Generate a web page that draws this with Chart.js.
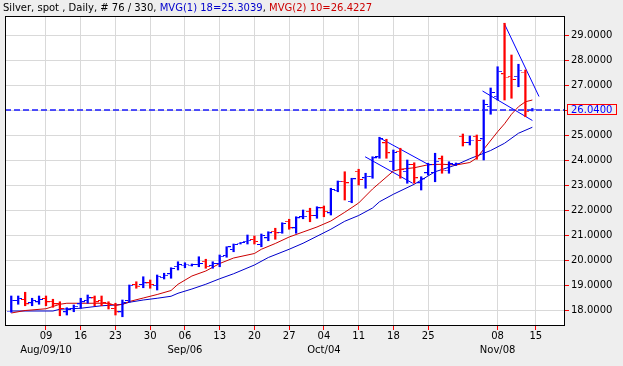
<!DOCTYPE html>
<html>
<head>
<meta charset="utf-8">
<title>Silver, spot, Daily</title>
<script src="https://cdn.jsdelivr.net/npm/chart.js@4.4.0/dist/chart.umd.min.js"></script>
<style>
  html, body { margin: 0; padding: 0; background: #eeeeee; }
  canvas { display: block; }
</style>
</head>
<body>
<canvas id="chart" width="623" height="366"></canvas>
<script>
// Daily OHLC, one bar per trading day, index 0 = Aug 2 2010
const opens = [
  17.96, 18.38, 18.42, 18.29, 18.33, 18.46, 18.35, 18.25, 17.93, 18.06,
  18.25, 18.38, 18.49, 18.38, 18.27, 18.06, 17.93, 18.38, 19.02, 19.02,
  19.09, 18.99, 19.31, 19.45, 19.75, 19.80, 19.80, 19.82, 19.95, 19.78,
  19.86, 20.18, 20.42, 20.68, 20.75, 20.82, 20.62, 20.89, 21.15, 21.11,
  21.55, 21.29, 21.73, 21.95, 21.78, 22.09, 21.89, 22.79, 23.15, 22.35,
  23.55, 23.29, 23.35, 24.13, 24.69, 23.95, 24.35, 23.55, 23.82, 23.09,
  23.49, 23.50, 24.05, 23.60, 23.82, 24.95, 24.70, 24.95, 24.85, 26.15,
  26.55, 27.45, 27.35, 27.35, 27.52, 26.00
];
const highs = [
  18.58, 18.58, 18.73, 18.49, 18.58, 18.58, 18.45, 18.35, 18.11, 18.22,
  18.49, 18.62, 18.58, 18.58, 18.35, 18.29, 18.42, 19.02, 19.15, 19.35,
  19.22, 19.42, 19.49, 19.71, 19.95, 19.91, 19.86, 20.15, 20.05, 19.95,
  20.22, 20.55, 20.66, 20.72, 21.02, 20.98, 21.06, 21.15, 21.29, 21.51,
  21.65, 21.75, 22.02, 22.09, 22.15, 22.18, 22.89, 23.18, 23.55, 23.29,
  23.65, 23.49, 24.15, 24.93, 24.85, 24.42, 24.49, 24.02, 23.91, 23.35,
  23.89, 24.29, 24.18, 23.95, 23.90, 25.06, 24.98, 25.02, 26.42, 26.90,
  27.75, 29.49, 28.22, 27.85, 27.62, 26.08
];
const lows = [
  17.93, 18.25, 18.19, 18.19, 18.25, 18.19, 18.13, 17.79, 17.82, 17.95,
  18.09, 18.29, 18.19, 18.19, 18.06, 17.82, 17.75, 18.33, 18.89, 18.91,
  18.89, 18.82, 19.26, 19.29, 19.62, 19.71, 19.78, 19.75, 19.69, 19.69,
  19.75, 20.13, 20.35, 20.66, 20.66, 20.66, 20.55, 20.79, 20.85, 21.09,
  21.25, 21.09, 21.67, 21.55, 21.69, 21.75, 21.82, 22.75, 22.42, 22.31,
  23.02, 22.89, 23.29, 24.09, 24.09, 23.62, 23.29, 23.09, 23.09, 22.82,
  23.42, 23.15, 23.49, 23.49, 23.80, 24.58, 24.62, 24.05, 24.02, 25.85,
  26.42, 26.42, 26.49, 26.95, 25.75, 25.98
];
const closes = [
  18.38, 18.46, 18.25, 18.38, 18.42, 18.33, 18.25, 18.06, 18.02, 18.15,
  18.33, 18.49, 18.33, 18.29, 18.22, 17.93, 18.29, 18.99, 18.95, 19.09,
  19.02, 19.35, 19.39, 19.66, 19.82, 19.84, 19.82, 19.86, 19.75, 19.86,
  20.15, 20.53, 20.62, 20.70, 20.79, 20.74, 20.98, 21.09, 21.09, 21.46,
  21.29, 21.69, 21.75, 21.78, 22.09, 21.95, 22.82, 23.15, 23.09, 23.25,
  23.22, 23.35, 24.09, 24.85, 24.29, 24.30, 23.62, 23.82, 23.29, 23.25,
  23.82, 23.95, 23.60, 23.85, 23.87, 24.70, 24.80, 24.78, 26.22, 26.70,
  27.55, 27.32, 27.22, 27.60, 25.95, 26.04
];

// MVG(2) 10 (red) and MVG(1) 18 (blue) at some bars
const ma10Idx = [0, 2, 5, 7, 8, 14, 15, 16, 17, 19, 21, 23, 24, 26, 28, 30, 32, 35, 36, 38,
  40, 42, 44, 46, 48, 50, 52, 53, 55, 56, 58, 60, 62, 64, 66, 67, 68, 70, 71, 72, 73, 74, 75];
const ma10Val = [17.90, 18.00, 18.07, 18.25, 18.29, 18.29, 18.20, 18.25, 18.36, 18.50,
  18.64, 18.80, 19.05, 19.38, 19.58, 19.88, 20.10, 20.28, 20.45, 20.68,
  20.94, 21.14, 21.34, 21.58, 21.93, 22.30, 22.86, 23.10, 23.58, 23.65,
  23.71, 23.83, 23.85, 23.82, 23.92, 24.10, 24.45, 25.15, 25.47, 25.85,
  26.15, 26.35, 26.42];
const ma18Idx = [0, 6, 7, 10, 13, 15, 16, 17, 19, 21, 23, 24, 26, 28, 30, 32, 35, 37, 40, 42,
  44, 46, 48, 50, 52, 53, 55, 58, 61, 64, 66, 69, 71, 73, 75];
const ma18Val = [17.98, 17.98, 18.05, 18.09, 18.19, 18.22, 18.25, 18.33, 18.42, 18.49,
  18.57, 18.69, 18.86, 19.05, 19.27, 19.47, 19.82, 20.12, 20.45, 20.69,
  20.97, 21.25, 21.57, 21.80, 22.10, 22.35, 22.65, 23.05, 23.55, 23.82,
  24.07, 24.40, 24.69, 25.09, 25.33];

// hand drawn trend lines: [bar1, price1, bar2, price2]
const trendLines = [
  [52.99, 24.91, 60.17, 23.82],
  [50.93, 24.15, 57.78, 23.09],
  [70.94, 29.49, 75.96, 26.56],
  [67.83, 26.78, 75.01, 25.60]
];

const lastPrice = 26.04;

// x axis ticks (bar index) and labels
const xTickIdx = [5, 10, 15, 20, 25, 30, 35, 40, 45, 50, 55, 60, 70, 75.5];
const xTickLabels = [['09', 'Aug/09/10'], ['16'], ['23'], ['30'], ['06', 'Sep/06'], ['13'], ['20'], ['27'],
  ['04', 'Oct/04'], ['11'], ['18'], ['25'], ['08', 'Nov/08'], ['15']];
const yTicks = [18, 19, 20, 21, 22, 23, 24, 25, 26, 27, 28, 29];

const UP = '#0000ff';
const DOWN = '#ff0000';
const BG = '#eeeeee';

Chart.defaults.font.family = '"DejaVu Sans", sans-serif';
Chart.defaults.font.size = 10;
Chart.defaults.color = '#000';

// small open / close tick images used as point styles
function tickImage(color, side) {
  const c = document.createElement('canvas');
  c.width = 8;
  c.height = 2;
  const g = c.getContext('2d');
  g.fillStyle = color;
  g.fillRect(side === 'left' ? 0 : 5, 0, 3, 1);
  return c;
}
const marks = {
  openUp: tickImage(UP, 'left'), openDown: tickImage(DOWN, 'left'),
  closeUp: tickImage(UP, 'right'), closeDown: tickImage(DOWN, 'right')
};

const idx = closes.map((_, i) => i);
const isUp = i => closes[i] >= opens[i];

const datasets = [
  {
    type: 'bar',
    data: idx.map(i => ({ x: i, y: [lows[i], highs[i]] })),
    backgroundColor: idx.map(i => isUp(i) ? UP : DOWN),
    barThickness: 1.6,
    borderWidth: 0
  },
  {
    type: 'scatter',
    data: idx.map(i => ({ x: i, y: opens[i] })),
    pointStyle: idx.map(i => isUp(i) ? marks.openUp : marks.openDown),
    pointRadius: 2
  },
  {
    type: 'scatter',
    data: idx.map(i => ({ x: i, y: closes[i] })),
    pointStyle: idx.map(i => isUp(i) ? marks.closeUp : marks.closeDown),
    pointRadius: 2
  },
  {
    type: 'line',
    data: ma10Idx.map((x, k) => ({ x, y: ma10Val[k] })),
    borderColor: '#cc0000',
    borderWidth: 1,
    pointRadius: 0,
    tension: 0
  },
  {
    type: 'line',
    data: ma18Idx.map((x, k) => ({ x, y: ma18Val[k] })),
    borderColor: '#0000cc',
    borderWidth: 1,
    pointRadius: 0,
    tension: 0
  }
];
trendLines.forEach(t => {
  datasets.push({
    type: 'line',
    data: [{ x: t[0], y: t[1] }, { x: t[2], y: t[3] }],
    borderColor: '#0000ff',
    borderWidth: 1,
    pointRadius: 0
  });
});

// background, frame, last price line and header
const decor = {
  id: 'decor',
  beforeDraw(chart) {
    const { ctx, chartArea: a } = chart;
    ctx.save();
    ctx.fillStyle = BG;
    ctx.fillRect(0, 0, chart.width, chart.height);
    ctx.fillStyle = '#ffffff';
    ctx.fillRect(a.left, a.top, a.right - a.left, a.bottom - a.top);
    ctx.restore();
  },
  afterDatasetsDraw(chart) {
    const { ctx, chartArea: a, scales } = chart;
    const py = Math.round(scales.y.getPixelForValue(lastPrice));
    ctx.save();
    ctx.strokeStyle = '#1a1aff';
    ctx.lineWidth = 1.5;
    ctx.setLineDash([6, 3]);
    ctx.beginPath();
    ctx.moveTo(a.left, py);
    ctx.lineTo(a.right, py);
    ctx.stroke();
    ctx.restore();
  },
  afterDraw(chart) {
    const { ctx, chartArea: a, scales } = chart;
    ctx.save();
    ctx.strokeStyle = '#000';
    ctx.lineWidth = 1;
    ctx.strokeRect(a.left + 0.5, a.top + 0.5, a.right - a.left - 1, a.bottom - a.top - 1);

    // boxed last price on the axis
    const py = Math.round(scales.y.getPixelForValue(lastPrice)) - 0.5;
    ctx.fillStyle = BG;
    ctx.fillRect(a.right + 2, py - 5, 49, 10);
    ctx.strokeStyle = '#ff0000';
    ctx.strokeRect(a.right + 2.5, py - 5, 49, 10);
    ctx.fillStyle = '#0000ff';
    ctx.font = '10px "DejaVu Sans"';
    ctx.textBaseline = 'middle';
    ctx.fillText(lastPrice.toFixed(4), a.right + 6, py + 0.5);

    // header text in three colours
    const parts = [
      ['Silver, spot , Daily, # 76 / 330, ', '#000000'],
      ['MVG(1) 18=25.3039', '#0000cc'],
      [', ', '#000000'],
      ['MVG(2) 10=26.4227', '#cc0000']
    ];
    ctx.textBaseline = 'alphabetic';
    let x = 3;
    parts.forEach(p => {
      ctx.fillStyle = p[1];
      ctx.fillText(p[0], x, 11);
      x += ctx.measureText(p[0]).width;
    });
    ctx.restore();
  }
};

new Chart(document.getElementById('chart'), {
  type: 'scatter',
  data: { datasets },
  options: {
    responsive: false,
    animation: false,
    events: [],
    layout: { padding: { top: 16, left: 3, right: 0, bottom: 0 } },
    plugins: { legend: { display: false }, tooltip: { enabled: false } },
    scales: {
      x: {
        type: 'linear',
        min: -0.9,
        max: 79.7,
        offset: false,
        grid: { color: '#d9d9d9', offset: false, tickColor: '#ff0000', tickLength: 4 },
        border: { display: false },
        ticks: {
          autoSkip: false,
          maxRotation: 0,
          padding: -1,
          font: { size: 10, lineHeight: 1.4 },
          callback: (v, i) => xTickLabels[i]
        },
        afterBuildTicks: s => { s.ticks = xTickIdx.map(v => ({ value: v })); },
        afterFit: s => { s.height = 40; }
      },
      y: {
        type: 'linear',
        position: 'right',
        min: 17.38,
        max: 29.78,
        beginAtZero: false,
        grid: { color: '#d9d9d9', tickColor: '#ff0000', tickLength: 4 },
        border: { display: false },
        ticks: { padding: 2, callback: v => v.toFixed(4) },
        afterBuildTicks: s => { s.ticks = yTicks.map(v => ({ value: v })); },
        afterFit: s => { s.width = 58; }
      }
    }
  },
  plugins: [decor]
});
</script>
</body>
</html>
